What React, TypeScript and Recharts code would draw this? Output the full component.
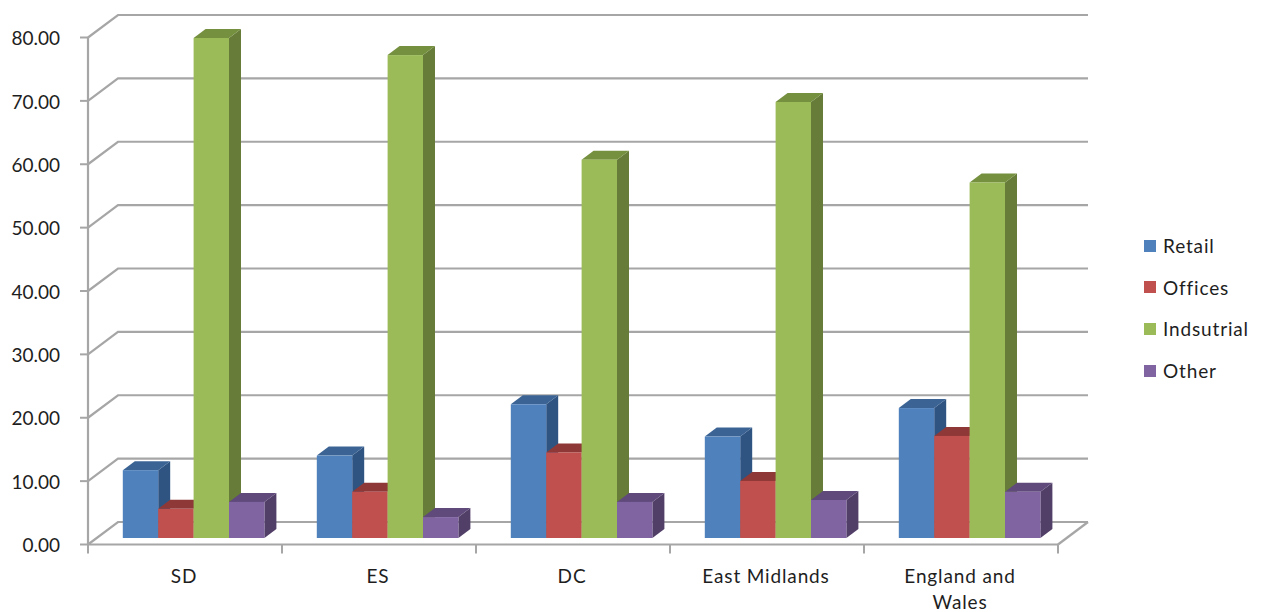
import { BarChart, Bar, XAxis, YAxis, CartesianGrid, Legend } from 'recharts';

const categories = ['SD', 'ES', 'DC', 'East Midlands', 'England and Wales'];
const retail = [10.7, 13.0, 21.1, 16.0, 20.5];
const offices = [4.6, 7.3, 13.5, 9.0, 16.1];
const industrial = [78.9, 76.2, 59.7, 68.8, 56.1];
const other = [5.7, 3.3, 5.7, 6.0, 7.3];
const yTicks = [0, 10, 20, 30, 40, 50, 60, 70, 80];

const data = categories.map((name, i) => ({
  name,
  retail: retail[i],
  offices: offices[i],
  industrial: industrial[i],
  other: other[i],
}));

const FONT = 'Lato, sans-serif';
const TEXT = '#1e1e1e';
const LINE = '#a6a6a6';
const LETTER_SPACING = 0.85;
const MAX_LABEL_CHARS = 13;
const LABEL_LINE_HEIGHT = 25.5;

const WIDTH = 1265;
const HEIGHT = 612;
const PLOT_LEFT = 88;
const PLOT_RIGHT = 1058;
const PLOT_TOP = 37.5;
const PLOT_BOTTOM = 544.5;
const STEP = (PLOT_RIGHT - PLOT_LEFT) / categories.length;

// back wall sits up and to the right of the front plane
const WALL_DX = 30;
const WALL_DY = -22.5;
// bars stand part way into the floor, each with its own small depth
const BAR_SHIFT_X = 8.8;
const BAR_SHIFT_Y = -6.5;
const BAR_DX = 12;
const BAR_DY = -9;

const shades: Record<string, { top: string; side: string }> = {
  '#4f81bd': { top: '#3b6495', side: '#2f5482' },
  '#c0504d': { top: '#8e3937', side: '#8e3937' },
  '#9bbb59': { top: '#75903f', side: '#667c38' },
  '#8064a2': { top: '#5f4a7b', side: '#523f68' },
};

const wrapLabel = (label: string) => {
  const lines: string[] = [];
  label.split(' ').forEach((word) => {
    const last = lines[lines.length - 1];
    if (last && (last + ' ' + word).length <= MAX_LABEL_CHARS) {
      lines[lines.length - 1] = last + ' ' + word;
    } else {
      lines.push(word);
    }
  });
  return lines;
};

const Bar3D = (props: any) => {
  const { x, y, width, height, fill } = props;
  const left = x + BAR_SHIFT_X;
  const right = left + width;
  const top = y + BAR_SHIFT_Y;
  const bottom = top + height;
  const { top: topFill, side: sideFill } = shades[fill];
  return (
    <g>
      <polygon
        points={`${right},${top} ${right + BAR_DX},${top + BAR_DY} ${right + BAR_DX},${bottom + BAR_DY} ${right},${bottom}`}
        fill={sideFill}
      />
      <polygon
        points={`${left},${top} ${left + BAR_DX},${top + BAR_DY} ${right + BAR_DX},${top + BAR_DY} ${right},${top}`}
        fill={topFill}
      />
      <rect x={left} y={top} width={width} height={height} fill={fill} />
    </g>
  );
};

// each gridline runs along the side wall, then across the back wall
const WallLine = (props: any) => {
  const { x1, x2, y1 } = props;
  const isFloor = Math.abs(y1 - PLOT_BOTTOM) < 1;
  return (
    <g>
      <polyline
        points={`${x1},${y1} ${x1 + WALL_DX},${y1 + WALL_DY} ${x2 + WALL_DX},${y1 + WALL_DY}`}
        fill="none"
        stroke={LINE}
        strokeWidth={2.2}
      />
      {isFloor && (
        <line
          x1={x2}
          y1={y1}
          x2={x2 + WALL_DX}
          y2={y1 + WALL_DY}
          stroke={LINE}
          strokeWidth={2.2}
        />
      )}
    </g>
  );
};

const CategoryTick = (props: any) => {
  const { x, y, payload, index } = props;
  const isLast = index === categories.length - 1;
  return (
    <g>
      <line x1={x - STEP / 2} y1={PLOT_BOTTOM} x2={x - STEP / 2} y2={PLOT_BOTTOM + 9} stroke={LINE} strokeWidth={2} />
      {isLast && (
        <line x1={x + STEP / 2} y1={PLOT_BOTTOM} x2={x + STEP / 2} y2={PLOT_BOTTOM + 9} stroke={LINE} strokeWidth={2} />
      )}
      <text
        textAnchor="middle"
        fontFamily={FONT}
        fontSize={19}
        letterSpacing={LETTER_SPACING}
        fill={TEXT}
      >
        {wrapLabel(payload.value).map((line, i) => (
          <tspan key={line} x={x - 1} y={y + 13.5 + i * LABEL_LINE_HEIGHT}>
            {line}
          </tspan>
        ))}
      </text>
    </g>
  );
};

const LegendList = ({ payload }: any) => (
  <div style={{ fontFamily: FONT, fontSize: 19, color: TEXT, letterSpacing: LETTER_SPACING }}>
    {payload.map((item: any) => (
      <div key={item.value} style={{ display: 'flex', alignItems: 'center', height: 41.6 }}>
        <span style={{ width: 12, height: 12, background: item.color, marginRight: 7 }} />
        <span>{item.value}</span>
      </div>
    ))}
  </div>
);

export default function App() {
  return (
    <div style={{ position: 'absolute', left: 0, top: 0 }}>
      <BarChart
        width={WIDTH}
        height={HEIGHT}
        data={data}
        barSize={35.4}
        barGap={0}
        margin={{ top: PLOT_TOP, right: WIDTH - PLOT_RIGHT - 121, bottom: 0, left: 0 }}
      >
        <CartesianGrid vertical={false} horizontal={WallLine} />
        <XAxis
          dataKey="name"
          interval={0}
          height={HEIGHT - PLOT_BOTTOM}
          axisLine={{ stroke: LINE, strokeWidth: 2.2 }}
          tickLine={false}
          tickSize={0}
          tickMargin={25}
          tick={CategoryTick}
        />
        <YAxis
          width={PLOT_LEFT}
          domain={[0, 80]}
          ticks={yTicks}
          interval={0}
          tickFormatter={(v: number) => v.toFixed(2)}
          axisLine={{ stroke: LINE, strokeWidth: 2.2 }}
          tickLine={{ stroke: LINE, strokeWidth: 2 }}
          tickSize={8}
          tickMargin={20}
          tick={{ fill: TEXT, fontSize: 19, fontFamily: FONT, dy: 1 }}
        />
        <Legend
          layout="vertical"
          align="right"
          verticalAlign="middle"
          width={121}
          itemSorter={null}
          wrapperStyle={{ left: 1144, top: 225 }}
          content={LegendList}
        />
        <Bar dataKey="retail" name="Retail" fill="#4f81bd" shape={Bar3D} isAnimationActive={false} />
        <Bar dataKey="offices" name="Offices" fill="#c0504d" shape={Bar3D} isAnimationActive={false} />
        <Bar dataKey="industrial" name="Indsutrial" fill="#9bbb59" shape={Bar3D} isAnimationActive={false} />
        <Bar dataKey="other" name="Other" fill="#8064a2" shape={Bar3D} isAnimationActive={false} />
      </BarChart>
    </div>
  );
}
